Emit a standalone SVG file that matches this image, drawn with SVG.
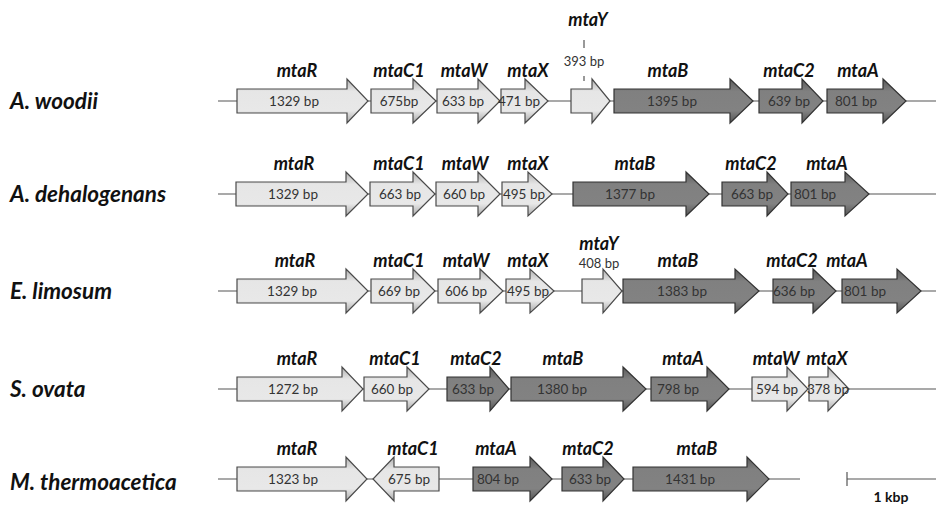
<svg xmlns="http://www.w3.org/2000/svg" width="936" height="505" viewBox="0 0 936 505">
<defs>
<linearGradient id="gL" x1="0" y1="0" x2="0" y2="1">
<stop offset="0" stop-color="#b0b0b0"/><stop offset="0.28" stop-color="#e6e6e6"/><stop offset="0.72" stop-color="#e8e8e8"/><stop offset="1" stop-color="#a8a8a8"/>
</linearGradient>
<linearGradient id="gD" x1="0" y1="0" x2="0" y2="1">
<stop offset="0" stop-color="#5a5a5a"/><stop offset="0.28" stop-color="#808080"/><stop offset="0.72" stop-color="#828282"/><stop offset="1" stop-color="#555"/>
</linearGradient>
</defs>
<style>
.sp{font-family:Lato,"Liberation Sans",sans-serif;font-weight:bold;font-style:italic;font-size:22.5px;fill:#111}
.gn{font-family:Lato,"Liberation Sans",sans-serif;font-weight:bold;font-style:italic;font-size:18px;fill:#111;text-anchor:middle}
.bp{font-family:Lato,"Liberation Sans",sans-serif;font-size:13.5px;fill:#333;text-anchor:middle}
.sm{font-family:Lato,"Liberation Sans",sans-serif;font-size:13px;fill:#333;text-anchor:middle}
.kb{font-family:Lato,"Liberation Sans",sans-serif;font-weight:bold;font-size:14px;fill:#111;text-anchor:middle}
.L{fill:url(#gL);stroke:#4a4a4a;stroke-width:1.2}
.D{fill:url(#gD);stroke:#333;stroke-width:1.2}
.ln{stroke:#555;stroke-width:1.2;fill:none}
</style>
<g id="species">
<text class="sp" x="10" y="109">A. woodii</text>
<text class="sp" x="10" y="202">A. dehalogenans</text>
<text class="sp" x="10" y="299">E. limosum</text>
<text class="sp" x="10" y="397">S. ovata</text>
<text class="sp" x="10" y="490">M. thermoacetica</text>
</g>
<g id="connectors">
<line class="ln" x1="218" y1="101" x2="936" y2="101"/>
<line class="ln" x1="218" y1="194" x2="936" y2="194"/>
<line class="ln" x1="218" y1="291" x2="936" y2="291"/>
<line class="ln" x1="218" y1="389" x2="936" y2="389"/>
<line class="ln" x1="218" y1="479" x2="800" y2="479"/>
<line class="ln" x1="584" y1="40" x2="584" y2="48"/>
<line class="ln" x1="584" y1="76" x2="584" y2="81"/>
</g>
<!-- Row 1 -->
<g id="r1-mtaR"><path class="L" d="M237,89H347V79L368,101L347,123V113H237Z"/><text class="bp" x="294" y="106">1329 bp</text><text class="gn" x="297" y="77">mtaR</text></g>
<g id="r1-mtaC1"><path class="L" d="M371,89H413V79L436,101L413,123V113H371Z"/><text class="bp" x="399" y="106">675bp</text><text class="gn" x="399" y="77">mtaC1</text></g>
<g id="r1-mtaW"><path class="L" d="M437,89H478V79L500,101L478,123V113H437Z"/><text class="bp" x="463" y="106">633 bp</text><text class="gn" x="464" y="77">mtaW</text></g>
<g id="r1-mtaX"><path class="L" d="M501,89H525V79L548,101L525,123V113H501Z"/><text class="bp" x="519" y="106">471 bp</text><text class="gn" x="528" y="77">mtaX</text></g>
<g id="r1-mtaY"><path class="L" d="M571,89H592V79L610,101L592,123V113H571Z"/><text class="gn" x="588" y="26">mtaY</text><text class="sm" x="584" y="66">393 bp</text></g>
<g id="r1-mtaB"><path class="D" d="M614,89H730V79L753,101L730,123V113H614Z"/><text class="bp" x="672" y="106">1395 bp</text><text class="gn" x="668" y="77">mtaB</text></g>
<g id="r1-mtaC2"><path class="D" d="M759,89H802V79L823,101L802,123V113H759Z"/><text class="bp" x="789" y="106">639 bp</text><text class="gn" x="789" y="77">mtaC2</text></g>
<g id="r1-mtaA"><path class="D" d="M827,89H883V79L906,101L883,123V113H827Z"/><text class="bp" x="856" y="106">801 bp</text><text class="gn" x="858" y="77">mtaA</text></g>
<!-- Row 2 -->
<g id="r2-mtaR"><path class="L" d="M236,182H346V172L368,194L346,216V206H236Z"/><text class="bp" x="293" y="199">1329 bp</text><text class="gn" x="294" y="170">mtaR</text></g>
<g id="r2-mtaC1"><path class="L" d="M370,182H413V172L435,194L413,216V206H370Z"/><text class="bp" x="400" y="199">663 bp</text><text class="gn" x="399" y="170">mtaC1</text></g>
<g id="r2-mtaW"><path class="L" d="M436,182H478V172L500,194L478,216V206H436Z"/><text class="bp" x="464" y="199">660 bp</text><text class="gn" x="465" y="170">mtaW</text></g>
<g id="r2-mtaX"><path class="L" d="M502,182H528V172L552,194L528,216V206H502Z"/><text class="bp" x="524" y="199">495 bp</text><text class="gn" x="528" y="170">mtaX</text></g>
<g id="r2-mtaB"><path class="D" d="M573,182H686V172L709,194L686,216V206H573Z"/><text class="bp" x="630" y="199">1377 bp</text><text class="gn" x="635" y="170">mtaB</text></g>
<g id="r2-mtaC2"><path class="D" d="M722,182H767V172L788,194L767,216V206H722Z"/><text class="bp" x="752" y="199">663 bp</text><text class="gn" x="751" y="170">mtaC2</text></g>
<g id="r2-mtaA"><path class="D" d="M791,182H845V172L869,194L845,216V206H791Z"/><text class="bp" x="815" y="199">801 bp</text><text class="gn" x="827" y="170">mtaA</text></g>
<!-- Row 3 -->
<g id="r3-mtaR"><path class="L" d="M237,279H346V269L368,291L346,313V303H237Z"/><text class="bp" x="292" y="296">1329 bp</text><text class="gn" x="295" y="267">mtaR</text></g>
<g id="r3-mtaC1"><path class="L" d="M371,279H413V269L435,291L413,313V303H371Z"/><text class="bp" x="399" y="296">669 bp</text><text class="gn" x="399" y="267">mtaC1</text></g>
<g id="r3-mtaW"><path class="L" d="M438,279H480V269L503,291L480,313V303H438Z"/><text class="bp" x="466" y="296">606 bp</text><text class="gn" x="466" y="267">mtaW</text></g>
<g id="r3-mtaX"><path class="L" d="M506,279H530V269L554,291L530,313V303H506Z"/><text class="bp" x="528" y="296">495 bp</text><text class="gn" x="528" y="267">mtaX</text></g>
<g id="r3-mtaY"><path class="L" d="M582,279H603V269L622,291L603,313V303H582Z"/><text class="gn" x="599" y="250">mtaY</text><text class="sm" x="599" y="268">408 bp</text></g>
<g id="r3-mtaB"><path class="D" d="M623,279H735V269L759,291L735,313V303H623Z"/><text class="bp" x="682" y="296">1383 bp</text><text class="gn" x="678" y="267">mtaB</text></g>
<g id="r3-mtaC2"><path class="D" d="M773,279H813V269L836,291L813,313V303H773Z"/><text class="bp" x="794" y="296">636 bp</text><text class="gn" x="792" y="267">mtaC2</text></g>
<g id="r3-mtaA"><path class="D" d="M842,279H897V269L921,291L897,313V303H842Z"/><text class="bp" x="865" y="296">801 bp</text><text class="gn" x="847" y="267">mtaA</text></g>
<!-- Row 4 -->
<g id="r4-mtaR"><path class="L" d="M237,377H342V367L363,389L342,411V401H237Z"/><text class="bp" x="293" y="394">1272 bp</text><text class="gn" x="297" y="365">mtaR</text></g>
<g id="r4-mtaC1"><path class="L" d="M364,377H407V367L429,389L407,411V401H364Z"/><text class="bp" x="392" y="394">660 bp</text><text class="gn" x="395" y="365">mtaC1</text></g>
<g id="r4-mtaC2"><path class="D" d="M447,377H490V367L509,389L490,411V401H447Z"/><text class="bp" x="473" y="394">633 bp</text><text class="gn" x="476" y="365">mtaC2</text></g>
<g id="r4-mtaB"><path class="D" d="M511,377H623V367L646,389L623,411V401H511Z"/><text class="bp" x="562" y="394">1380 bp</text><text class="gn" x="563" y="365">mtaB</text></g>
<g id="r4-mtaA"><path class="D" d="M651,377H707V367L729,389L707,411V401H651Z"/><text class="bp" x="678" y="394">798 bp</text><text class="gn" x="683" y="365">mtaA</text></g>
<g id="r4-mtaW"><path class="L" d="M752,377H787V367L808,389L787,411V401H752Z"/><text class="bp" x="777" y="394">594 bp</text><text class="gn" x="776" y="365">mtaW</text></g>
<g id="r4-mtaX"><path class="L" d="M809,377H828V367L849,389L828,411V401H809Z"/><text class="bp" x="828" y="394">378 bp</text><text class="gn" x="827" y="365">mtaX</text></g>
<!-- Row 5 -->
<g id="r5-mtaR"><path class="L" d="M237,467H346V457L367,479L346,501V491H237Z"/><text class="bp" x="293" y="484">1323 bp</text><text class="gn" x="297" y="455">mtaR</text></g>
<g id="r5-mtaC1"><path class="L" d="M439,467H394V457L373,479L394,501V491H439Z"/><text class="bp" x="409" y="484">675 bp</text><text class="gn" x="413" y="455">mtaC1</text></g>
<g id="r5-mtaA"><path class="D" d="M473,467H530V457L552,479L530,501V491H473Z"/><text class="bp" x="498" y="484">804 bp</text><text class="gn" x="496" y="455">mtaA</text></g>
<g id="r5-mtaC2"><path class="D" d="M562,467H603V457L624,479L603,501V491H562Z"/><text class="bp" x="590" y="484">633 bp</text><text class="gn" x="588" y="455">mtaC2</text></g>
<g id="r5-mtaB"><path class="D" d="M633,467H747V457L769,479L747,501V491H633Z"/><text class="bp" x="690" y="484">1431 bp</text><text class="gn" x="697" y="455">mtaB</text></g>
<g id="scalebar">
<line class="ln" x1="847" y1="472" x2="847" y2="486"/>
<line class="ln" x1="847" y1="479" x2="936" y2="479"/>
<text class="kb" x="891" y="502">1 kbp</text>
</g>
</svg>
